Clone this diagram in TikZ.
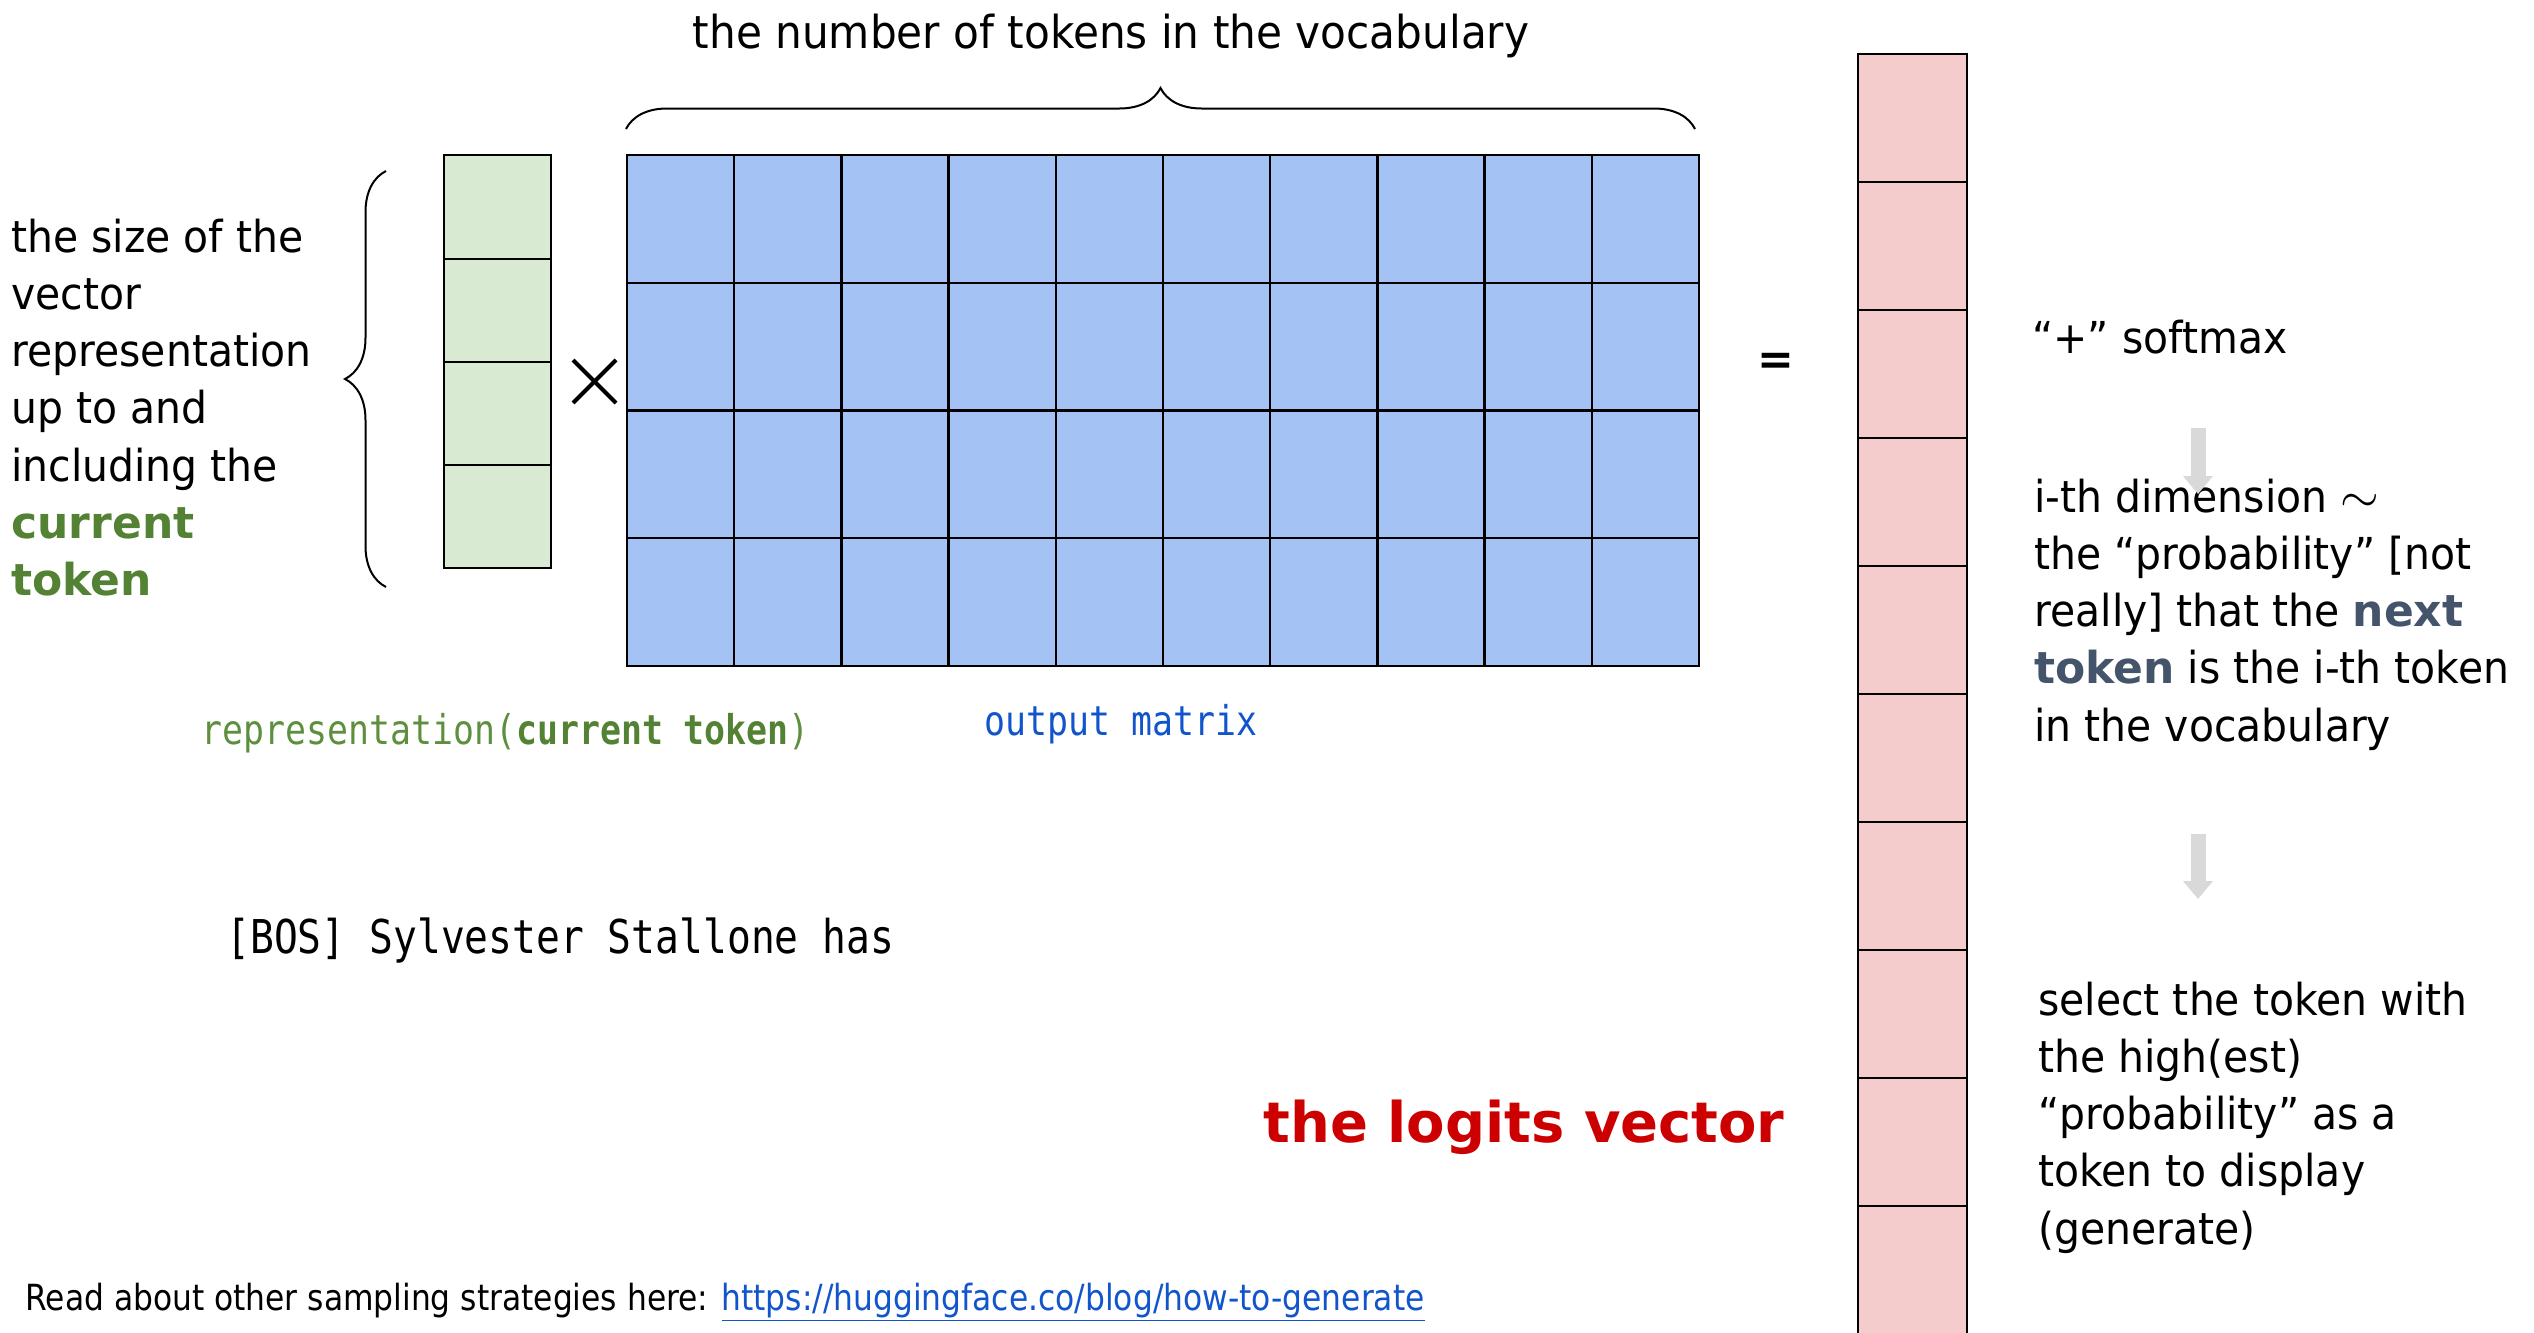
\documentclass[tikz,border=0pt]{standalone}
\usepackage{fontspec}
\setmainfont{DejaVu Sans}[FakeStretch=0.93]
\newfontfamily\bfam{DejaVu Sans}[FakeStretch=1.0]
\newfontfamily\footfam{DejaVu Sans}[FakeStretch=0.87]
\setmonofont{DejaVu Sans Mono}[FakeStretch=0.85]
\usetikzlibrary{decorations.pathreplacing,arrows.meta}
\definecolor{vgreen}{HTML}{D9EAD3}
\definecolor{vblue}{HTML}{A4C2F4}
\definecolor{vpink}{HTML}{F4CCCC}
\definecolor{tgreen}{HTML}{548235}
\definecolor{tgreenlight}{HTML}{5E8F3E}
\definecolor{tblue}{HTML}{1155CC}
\definecolor{tslate}{HTML}{44546A}
\definecolor{tred}{HTML}{CC0000}
\definecolor{agray}{HTML}{D9D9D9}
\begin{document}
\begin{tikzpicture}[x=0.5pt,y=-0.5pt,
  gridline/.style={draw=black,line width=1.2pt},
  txt/.style={inner sep=0pt,anchor=base west,font=\fontsize{22}{28.65}\selectfont},
  mono/.style={inner sep=0pt,anchor=base west,font=\ttfamily\fontsize{20.5}{24}\selectfont},
  bracestyle/.style={draw=black,line width=1pt,decorate,decoration={brace,amplitude=20.5pt}},
  grayarrow/.style={draw=agray,line width=7.5pt,-{Triangle[width=14.5pt,length=9pt]}},
  timesline/.style={draw=black,line width=2pt}]
\useasboundingbox (0,0) rectangle (2534,1333);

% green vector
\fill[vgreen] (444,155) rectangle (551,568);
\foreach \y in {259,362,465} \draw[gridline] (444,\y) -- (551,\y);
\draw[gridline] (444,155) rectangle (551,568);
\coordinate (green) at (497.5,361.5);

% blue matrix
\fill[vblue] (627,155) rectangle (1699,666);
\foreach \i in {1,...,9} \draw[gridline] ({627+107.2*\i},155) -- ({627+107.2*\i},666);
\foreach \j in {1,2,3} \draw[gridline] (627,{155+127.75*\j}) -- (1699,{155+127.75*\j});
\draw[gridline] (627,155) rectangle (1699,666);
\coordinate (blue) at (1163,410.5);

% pink vector
\fill[vpink] (1858,54) rectangle (1967,1334);
\foreach \j in {1,...,9} \draw[gridline] (1858,{54+128*\j}) -- (1967,{54+128*\j});
\draw[gridline] (1858,1334) -- (1858,54) -- (1967,54) -- (1967,1334);
\coordinate (pink) at (1912.5,694);

% braces
\coordinate (tbL) at (626,129);
\coordinate (tbR) at (1695,129);
\draw[bracestyle] (tbL) -- (tbR);
\coordinate (lbB) at (386,587);
\coordinate (lbT) at (386,171);
\draw[bracestyle] (lbB) -- (lbT);

% operators
\coordinate (tx1) at (573,360);
\coordinate (tx2) at (616,403);
\coordinate (tx3) at (573,403);
\coordinate (tx4) at (616,360);
\draw[timesline] (tx1) -- (tx2);
\draw[timesline] (tx3) -- (tx4);
\node[txt,anchor=center,font=\bfam\bfseries\fontsize{22}{24}\selectfont] (eq) at (1775.5,364) {=};

% title
\node[txt,anchor=base,font=\fontsize{22.7}{26}\selectfont] (title) at (1111,48) {the number of tokens in the vocabulary};

% left text
\node[txt] (l1) at (11,252) {the size of the};
\node[txt] (l2) at (11,309.3) {vector};
\node[txt] (l3) at (11,366.6) {representation};
\node[txt] (l4) at (11,423.9) {up to and};
\node[txt] (l5) at (11,481.2) {including the};
\node[txt,text=tgreen] (l6) at (11,538.5) {\bfam\bfseries current};
\node[txt,text=tgreen] (l7) at (11,595.8) {\bfam\bfseries token};

% mono labels
\node[mono,text=tgreenlight] (repr) at (201,744) {representation(\textbf{\textcolor{tgreen}{current token}})};
\node[mono,text=tblue] (outm) at (984,735) {output matrix};
\node[mono,font=\ttfamily\fontsize{23.3}{26}\selectfont] (bos) at (226,953) {[BOS] Sylvester Stallone has};

% logits label
\node[inner sep=0pt,anchor=base west,text=tred,font=\bfam\bfseries\fontsize{28}{30}\selectfont] (logits) at (1263,1142) {the logits vector};

% right text
\node[txt] (soft) at (2032,353) {“+” softmax};
\node[txt] (r1) at (2034,512) {i-th dimension {\fontsize{25}{26}\selectfont$\sim$}};
\node[txt] (r2) at (2034,569.3) {the “probability” [not};
\node[txt] (r3) at (2034,626.6) {really] that the \textcolor{tslate}{\bfam\bfseries next}};
\node[txt] (r4) at (2034,683.9) {\textcolor{tslate}{\bfam\bfseries token} is the i-th token};
\node[txt] (r5) at (2034,741.2) {in the vocabulary};

\node[txt] (s1) at (2038,1015) {select the token with};
\node[txt] (s2) at (2038,1072.3) {the high(est)};
\node[txt] (s3) at (2038,1129.6) {“probability” as a};
\node[txt] (s4) at (2038,1186.9) {token to display};
\node[txt] (s5) at (2038,1244.2) {(generate)};

% gray arrows
\coordinate (a1s) at (2198,428);
\coordinate (a1e) at (2198,494);
\coordinate (a2s) at (2198,834);
\coordinate (a2e) at (2198,899);
\draw[grayarrow] (a1s) -- (a1e);
\draw[grayarrow] (a2s) -- (a2e);

% footer
\node[inner sep=0pt,anchor=base west,font=\footfam\fontsize{18}{20}\selectfont] (foot) at (25,1310) {Read about other sampling strategies here: \textcolor{tblue}{\underline{https://huggingface.co/blog/how-to-generate}}};
\end{tikzpicture}
\end{document}
